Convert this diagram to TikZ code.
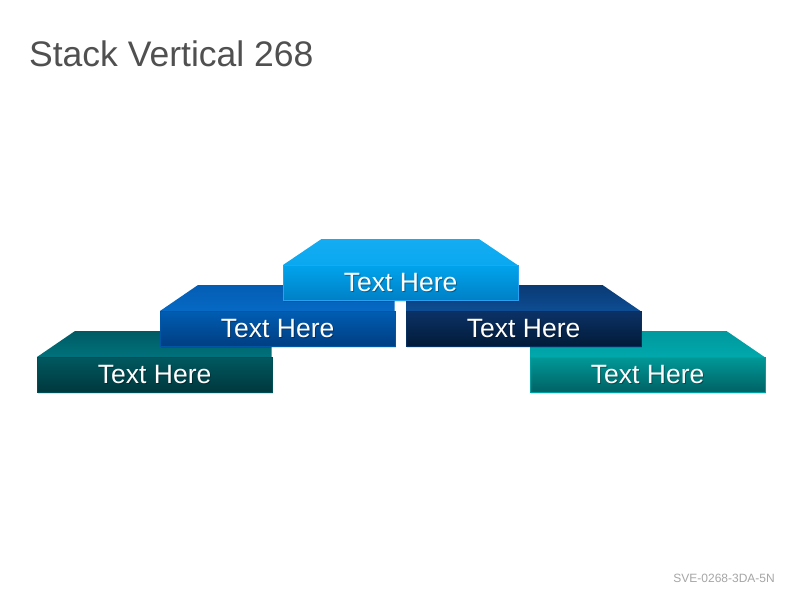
\documentclass[tikz,border=0pt]{standalone}
\usepackage{fontspec}
\setmainfont{Liberation Sans}
\definecolor{titlegray}{HTML}{505050}
\definecolor{footgray}{HTML}{A6A6A6}
% teal left
\definecolor{tlTopA}{HTML}{005A63}\definecolor{tlTopB}{HTML}{00727C}
\definecolor{tlFrA}{HTML}{005860}\definecolor{tlFrB}{HTML}{00383D}\definecolor{tlEdge}{HTML}{004E55}
% blue
\definecolor{blTopA}{HTML}{045DB3}\definecolor{blTopB}{HTML}{0669C5}
\definecolor{blFrA}{HTML}{005DB2}\definecolor{blFrB}{HTML}{003E82}\definecolor{blEdge}{HTML}{0055A5}
% center light blue
\definecolor{cTopA}{HTML}{14ACF2}\definecolor{cTopB}{HTML}{0AA8F0}
\definecolor{cFrA}{HTML}{00A4EC}\definecolor{cFrB}{HTML}{0080C6}\definecolor{cEdge}{HTML}{2AA0F2}
% navy
\definecolor{nvTopA}{HTML}{0A3A74}\definecolor{nvTopB}{HTML}{0D4D93}
\definecolor{nvFrA}{HTML}{0B3266}\definecolor{nvFrB}{HTML}{021A38}\definecolor{nvEdge}{HTML}{08305F}
% teal right
\definecolor{trTopA}{HTML}{00999E}\definecolor{trTopB}{HTML}{00A8AC}
\definecolor{trFrA}{HTML}{009898}\definecolor{trFrB}{HTML}{006264}\definecolor{trEdge}{HTML}{00A0A2}
\tikzset{
  facelabel/.style={text=white,font=\fontsize{26.5}{26.5}\selectfont,inner sep=0pt},
  shadowlabel/.style={text=black,opacity=0.3,font=\fontsize{26.5}{26.5}\selectfont,inner sep=0pt},
  frontbox/.style={minimum width=234.5pt,minimum height=34.5pt,inner sep=0pt,anchor=north west},
  dropshadow/.style={fill=black,opacity=0.12},
}
% #1 x, #2 y (front top-left), #3 name, #4 prefix, #5 slant: 1 left, 2 right, 3 both
\newcommand{\stackblock}[5]{%
  \fill[dropshadow] (#1+1,#2+1) rectangle (#1+236,#2+37);
  \ifcase#5\or
    \path[top color=#4TopA,bottom color=#4TopB] (#1,#2) -- (#1+38,#2-26) -- (#1+234.5,#2-26) -- (#1+234.5,#2) -- cycle;
  \or
    \path[top color=#4TopA,bottom color=#4TopB] (#1,#2) -- (#1,#2-26) -- (#1+196.5,#2-26) -- (#1+234.5,#2) -- cycle;
  \or
    \path[top color=#4TopA,bottom color=#4TopB] (#1,#2) -- (#1+38.5,#2-26) -- (#1+196,#2-26) -- (#1+234.5,#2) -- cycle;
  \fi
  \node[frontbox,top color=#4FrA,bottom color=#4FrB,draw=#4Edge,line width=0.8pt] (#3) at (#1,#2) {};
  \node[shadowlabel] at ([shift={(1,1)}]#3.center) {Text Here};
  \node[facelabel] (#3-text) at (#3.center) {Text Here};
}
\begin{document}
\begin{tikzpicture}[x=1pt,y=-1pt]
\useasboundingbox[fill=white] (0,0) rectangle (800,600);
\node[anchor=base west,text=titlegray,font=\fontsize{35.5}{35.5}\selectfont,inner sep=0pt] (title) at (29,66) {Stack Vertical 268};
\node[anchor=base east,text=footgray,font=\fontsize{12}{12}\selectfont,inner sep=0pt] (footer) at (775,582) {SVE-0268-3DA-5N};
\stackblock{37}{357}{tealleft}{tl}{1}
\stackblock{530}{357}{tealright}{tr}{2}
\stackblock{160}{311}{blue}{bl}{1}
\stackblock{406}{311}{navy}{nv}{2}
\stackblock{283}{265}{top}{c}{3}
\end{tikzpicture}
\end{document}
